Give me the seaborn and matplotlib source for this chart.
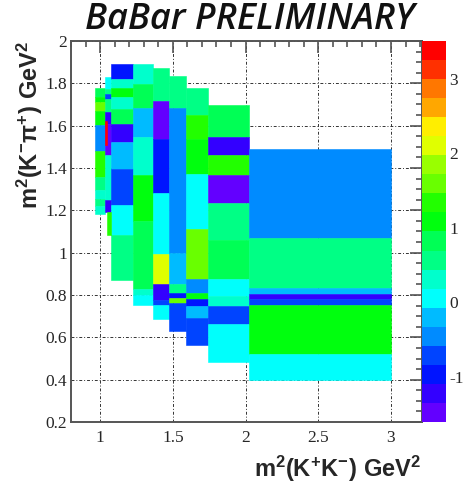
import colorsys
import numpy as np
import pandas as pd
import matplotlib
matplotlib.use("Agg")
import matplotlib.pyplot as plt
import seaborn as sns
from matplotlib.colors import ListedColormap, BoundaryNorm
from matplotlib.cm import ScalarMappable
from matplotlib.ticker import MultipleLocator, FixedLocator, FixedFormatter

# ---------------- data (variable-size bins of the Dalitz plot) ----------------
# column x-edges, m^2(K+K-) [GeV^2]
col_x = [0.966, 1.036, 1.078, 1.229, 1.367, 1.475, 1.592, 1.745, 2.023, 3.0]

# y-edges (top -> bottom), m^2(K-pi+) [GeV^2], and bin contents for each column
c1_y = [1.780, 1.735, 1.712, 1.669, 1.605, 1.480, 1.357, 1.294, 1.255, 1.219, 1.184]
c1_z = [0.82, 1.08, 1.59, 1.08, -0.46, 1.33, 0.57, 0.31, 0.57, 0.31]

c2_y = [1.830, 1.775, 1.751, 1.728, 1.664, 1.610, 1.460, 1.247, 1.192]
c2_z = [0.05, 0.57, -0.71, 0.57, -1.23, -1.48, 0.31, -1.23]

c3_y = [1.893, 1.822, 1.780, 1.735, 1.680, 1.610, 1.523, 1.397, 1.224, 1.082, 0.871]
c3_z = [-0.97, 0.31, 1.08, 0.31, 0.82, -1.23, -0.20, -0.71, 0.05, 0.57]

c4_y = [1.893, 1.795, 1.685, 1.546, 1.365, 1.148, 0.827, 0.798, 0.751]
c4_z = [0.31, 0.82, -0.20, 0.31, 1.08, 0.82, 0.31, 0.05]

c5_y = [1.872, 1.715, 1.539, 1.282, 0.995, 0.854, 0.775, 0.755, 0.688]
c5_z = [0.57, -1.48, -0.97, 0.05, 2.10, -1.23, -0.71, 0.05]

c6_y = [1.834, 1.685, 0.998, 0.850, 0.810, 0.785, 0.760, 0.631]
c6_z = [0.57, -0.46, -0.20, 0.57, -0.97, 1.59, -0.71]

c7_y = [1.778, 1.652, 1.535, 1.373, 1.114, 0.877, 0.809, 0.783, 0.746, 0.693, 0.562]
c7_z = [0.57, 1.33, 1.08, 0.05, 1.59, -0.46, 1.08, -0.97, -0.20, -0.71]

c8_y = [1.696, 1.546, 1.460, 1.365, 1.236, 1.062, 0.877, 0.794, 0.748, 0.661, 0.483]
c8_z = [0.82, -1.23, 1.33, -1.48, 0.57, 0.82, 0.05, 0.31, -0.71, 0.05]

c9_y = [1.491, 1.069, 0.833, 0.805, 0.780, 0.753, 0.520, 0.400]
c9_z = [-0.46, 0.57, -0.20, -1.23, -0.71, 1.08, 0.05]

# extra small bins inside column 2
extra_x0 = [1.046, 1.036]
extra_x1 = [1.078, 1.046]
extra_y0 = [1.085, 1.510]
extra_y1 = [1.192, 1.620]
extra_z = [1.33, 3.40]

z_min, z_max, n_levels = -1.61, 3.51, 20
cbar_ticks = [-1, 0, 1, 2, 3]
x_ticks = [1, 1.5, 2, 2.5, 3]
x_ticklabels = ["1", "1.5", "2", "2.5", "3"]
y_ticks = [0.2, 0.4, 0.6, 0.8, 1.0, 1.2, 1.4, 1.6, 1.8, 2.0]
y_ticklabels = ["0.2", "0.4", "0.6", "0.8", "1", "1.2", "1.4", "1.6", "1.8", "2"]

# ---------------- build the table of bins ----------------
cols_y = [c1_y, c2_y, c3_y, c4_y, c5_y, c6_y, c7_y, c8_y, c9_y]
cols_z = [c1_z, c2_z, c3_z, c4_z, c5_z, c6_z, c7_z, c8_z, c9_z]
rows = []
for ci, (ys, zs) in enumerate(zip(cols_y, cols_z)):
    for j, z in enumerate(zs):
        rows.append(dict(x0=col_x[ci], x1=col_x[ci + 1], y0=ys[j + 1], y1=ys[j], z=z))
for a, b, c, d, z in zip(extra_x0, extra_x1, extra_y0, extra_y1, extra_z):
    rows.append(dict(x0=a, x1=b, y0=c, y1=d, z=z))
cells = pd.DataFrame(rows)

# ---------------- ROOT "pretty" palette, 20 contour levels ----------------
pal = []
for k in range(n_levels):
    i = int((k + 0.99) * 50 / n_levels)
    hue = 280 - (i + 1) * 280 / 50
    pal.append(colorsys.hls_to_rgb(hue / 360.0, 0.5, 1.0))
pal = sns.color_palette(pal)
cmap = ListedColormap(pal)
norm = BoundaryNorm(np.linspace(z_min, z_max, n_levels + 1), n_levels)

# ---------------- figure ----------------
sns.set_theme(style="white")
plt.rcParams["mathtext.fontset"] = "custom"
plt.rcParams["mathtext.rm"] = "Liberation Sans:bold"
plt.rcParams["mathtext.it"] = "Liberation Sans:bold"
plt.rcParams["mathtext.bf"] = "Liberation Sans:bold"

W, H = 467, 483
fig = plt.figure(figsize=(W / 100, H / 100), dpi=100)
fig.patch.set_facecolor("white")
ax_l, ax_r, ax_t, ax_b = 71, 421.5, 41, 422
ax = fig.add_axes([ax_l / W, 1 - ax_b / H, (ax_r - ax_l) / W, (ax_b - ax_t) / H])
cax = fig.add_axes([ax_r / W, 1 - ax_b / H, 24 / W, (ax_b - ax_t) / H])

colors = [cmap(norm(v)) for v in cells["z"]]
ax.bar(cells["x0"], cells["y1"] - cells["y0"], width=cells["x1"] - cells["x0"],
       bottom=cells["y0"], align="edge", color=colors, edgecolor=colors,
       linewidth=0.4, zorder=2)

ax.set_xlim(0.8, 3.21)
ax.set_ylim(0.2, 2.0)
ax.set_facecolor("white")
ax.grid(True, which="major", color="#333333", linestyle=(0, (3, 2, 1, 2)),
        linewidth=0.7, zorder=0)
ax.set_axisbelow(True)

ax.xaxis.set_major_locator(FixedLocator(x_ticks))
ax.xaxis.set_major_formatter(FixedFormatter(x_ticklabels))
ax.xaxis.set_minor_locator(MultipleLocator(0.1))
ax.yaxis.set_major_locator(FixedLocator(y_ticks))
ax.yaxis.set_major_formatter(FixedFormatter(y_ticklabels))
ax.yaxis.set_minor_locator(MultipleLocator(0.05))

spine_col = "#555555"
for s in ax.spines.values():
    s.set_color(spine_col)
    s.set_linewidth(1.4)
    s.set_zorder(5)
ax.tick_params(which="both", direction="in", top=True, right=True,
               color=spine_col, width=1.2, labelsize=12.5)
ax.tick_params(which="major", length=8.5)
ax.tick_params(which="minor", length=4.3)
ax.tick_params(axis="x", pad=6)
ax.tick_params(axis="y", pad=3)
for lab in ax.get_xticklabels() + ax.get_yticklabels():
    lab.set_fontfamily("Liberation Serif")

# colour bar
cb = fig.colorbar(ScalarMappable(norm=norm, cmap=cmap), cax=cax)
cb.outline.set_linewidth(0)
cb.set_ticks(cbar_ticks)
cb.set_ticklabels([str(t) for t in cbar_ticks])
cax.minorticks_off()
cax.tick_params(direction="in", length=8.5, width=1.2, color="black",
                labelsize=12.5, pad=3)
for lab in cax.get_yticklabels():
    lab.set_fontfamily("Liberation Serif")

# axis titles
ax.text(1.0, -0.122, r"$\mathbf{m^{2}(K^{+}K^{-})\ GeV^{2}}$", transform=ax.transAxes,
        ha="right", va="center", fontsize=17)
ax.text(-0.117, 1.0, r"$\mathbf{m^{2}(K^{-}\pi^{+})\ GeV^{2}}$", transform=ax.transAxes,
        ha="center", va="top", rotation=90, fontsize=17)

fig.text(250 / W, 1 - 20 / H, "BaBar PRELIMINARY", ha="center", va="center",
         fontsize=26, style="italic", fontweight="semibold", family="Open Sans",
         color="#111111")

fig.savefig("out.png", dpi=100, facecolor="white")
